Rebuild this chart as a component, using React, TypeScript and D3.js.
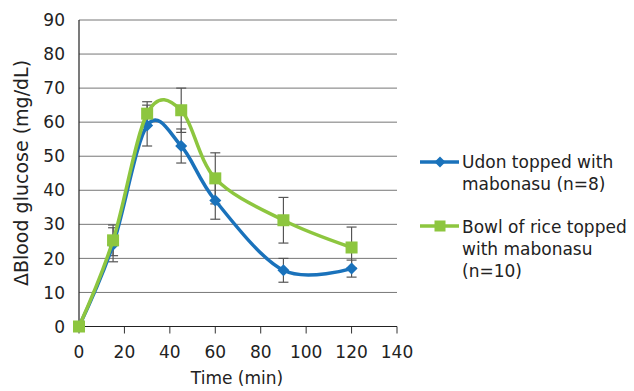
import React from "react";
import * as d3 from "d3";

const times = [0, 15, 30, 45, 60, 90, 120];
const udonMean = [0, 24, 59, 53, 37, 16.5, 17];
const udonErr = [0, 5, 6, 5, 5.5, 3.5, 2.5];
const riceMean = [0, 25.3, 62.5, 63.5, 43.5, 31.2, 23.2];
const riceErr = [0, 4.5, 3.5, 6.5, 7.5, 6.7, 6];
const xTicks = [0, 20, 40, 60, 80, 100, 120, 140];
const yTicks = [0, 10, 20, 30, 40, 50, 60, 70, 80, 90];
const legendUdon = ["Udon topped with", "mabonasu (n=8)"];
const legendRice = ["Bowl of rice topped", "with mabonasu", "(n=10)"];

const BLUE = "#1a72bb";
const GREEN = "#8dc63f";
const FONT = "'DejaVu Sans', sans-serif";

export default function App() {
  const W = 634, H = 391;
  const x = d3.scaleLinear().domain([0, 140]).range([79, 397]);
  const y = d3.scaleLinear().domain([0, 90]).range([326.5, 20]);
  const line = d3
    .line<number>()
    .x((_, i) => x(times[i]))
    .y((d) => y(d))
    .curve(d3.curveCatmullRom.alpha(0));

  const errBars = (mean: number[], err: number[], key: string) =>
    times.map((t, i) =>
      err[i] > 0 ? (
        <g key={key + i} stroke="#555" strokeWidth={1.2}>
          <line x1={x(t)} x2={x(t)} y1={y(mean[i] - err[i])} y2={y(mean[i] + err[i])} />
          <line x1={x(t) - 5} x2={x(t) + 5} y1={y(mean[i] - err[i])} y2={y(mean[i] - err[i])} />
          <line x1={x(t) - 5} x2={x(t) + 5} y1={y(mean[i] + err[i])} y2={y(mean[i] + err[i])} />
        </g>
      ) : null
    );

  const diamond = (cx: number, cy: number, r: number, k: string) => (
    <path key={k} d={`M${cx},${cy - r}L${cx + r},${cy}L${cx},${cy + r}L${cx - r},${cy}Z`} fill={BLUE} />
  );

  return (
    <svg width={W} height={H} style={{ position: "absolute", left: 0, top: 0 }}>
      <rect width={W} height={H} fill="#fff" />
      {yTicks.map((t) => (
        <g key={"y" + t}>
          {t > 0 && <line x1={79} x2={397} y1={y(t)} y2={y(t)} stroke="#777" strokeWidth={1} />}
          <text x={65} y={y(t)} dy="0.36em" textAnchor="end" fontFamily={FONT} fontSize={17} fill="#222">
            {t}
          </text>
        </g>
      ))}
      {xTicks.map((t) => (
        <g key={"x" + t}>
          <line x1={x(t)} x2={x(t)} y1={y(0)} y2={y(0) + 7} stroke="#333" strokeWidth={1} />
          <text x={x(t)} y={358} textAnchor="middle" fontFamily={FONT} fontSize={17} fill="#222">
            {t}
          </text>
        </g>
      ))}
      <line x1={79} x2={397} y1={y(0)} y2={y(0)} stroke="#222" strokeWidth={1.2} />
      <line x1={79} x2={79} y1={20} y2={y(0)} stroke="#222" strokeWidth={1.2} />
      <text x={237} y={384} textAnchor="middle" fontFamily={FONT} fontSize={17} fill="#222">
        Time (min)
      </text>
      <text
        transform="translate(28,173) rotate(-90)"
        textAnchor="middle"
        fontFamily={FONT}
        fontSize={19}
        fill="#222"
      >
        ΔBlood glucose (mg/dL)
      </text>

      {errBars(udonMean, udonErr, "ue")}
      {errBars(riceMean, riceErr, "re")}

      <path d={line(udonMean) || ""} fill="none" stroke={BLUE} strokeWidth={3.5} />
      {udonMean.map((v, i) => diamond(x(times[i]), y(v), 6, "ud" + i))}
      <path d={line(riceMean) || ""} fill="none" stroke={GREEN} strokeWidth={3.5} />
      {riceMean.map((v, i) => (
        <rect key={"rs" + i} x={x(times[i]) - 6} y={y(v) - 6} width={12} height={12} fill={GREEN} />
      ))}

      {/* legend */}
      <line x1={420} x2={459} y1={162} y2={162} stroke={BLUE} strokeWidth={3.5} />
      {diamond(440, 162, 5.5, "ld")}
      {legendUdon.map((s, i) => (
        <text key={"lu" + i} x={462} y={168 + i * 22} fontFamily={FONT} fontSize={17} fill="#222">
          {s}
        </text>
      ))}
      <line x1={420} x2={459} y1={226} y2={226} stroke={GREEN} strokeWidth={3.5} />
      <rect x={434.5} y={220.5} width={11} height={11} fill={GREEN} />
      {legendRice.map((s, i) => (
        <text key={"lr" + i} x={462} y={233 + i * 22} fontFamily={FONT} fontSize={17} fill="#222">
          {s}
        </text>
      ))}
    </svg>
  );
}
